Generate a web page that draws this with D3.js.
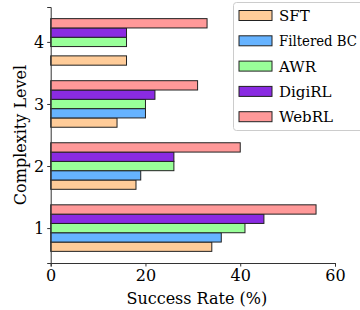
<!DOCTYPE html>
<html>
<head>
<meta charset="utf-8">
<script src="https://cdn.jsdelivr.net/npm/d3@7"></script>
<style>
  body { margin: 0; background: #fff; }
</style>
</head>
<body>
<svg width="360" height="310" font-family="DejaVu Serif"></svg>
<script>
// complexity levels and method names
const levels = [1, 2, 3, 4];
const methods = ['SFT', 'Filtered BC', 'AWR', 'DigiRL', 'WebRL'];
const colors = ['#ffcc99', '#66b3ff', '#99ff99', '#8a2be2', '#ff9999'];

// success rate (%) per level, one array per method
const sft = [34, 18, 14, 16];
const filteredBC = [36, 19, 20, 0];
const awr = [41, 26, 20, 16];
const digirl = [45, 26, 22, 16];
const webrl = [56, 40, 31, 33];
const values = [sft, filteredBC, awr, digirl, webrl];

const xTicks = [0, 20, 40, 60];

const FONT = 'DejaVu Serif';
const FS = 16;

const svg = d3.select('svg');
const barH = 0.15;

const x = d3.scaleLinear().domain([0, 60]).range([50.7, 335]);
const y = d3.scaleLinear().domain([0.4375, 4.5625]).range([263, 7]);

// bars
methods.forEach((m, j) => {
    const rows = levels.map((l, i) => ({ level: l, v: values[j][i] }))
        .filter(d => d.v > 0);
    svg.append('g').selectAll('rect')
        .data(rows)
        .enter()
        .append('rect')
        .attr('x', x(0))
        .attr('y', d => y(d.level + (j - 2) * barH + barH / 2))
        .attr('width', d => x(d.v) - x(0))
        .attr('height', d => y(0) - y(barH))
        .attr('fill', colors[j])
        .attr('stroke', '#222')
        .attr('stroke-width', 1);
});

// axes
const xAxis = svg.append('g')
    .attr('transform', `translate(0,${y(0.4375)})`)
    .call(d3.axisBottom(x).tickValues(xTicks).tickFormat(d3.format('d')).tickSize(3.5).tickPadding(3));
const yAxis = svg.append('g')
    .attr('transform', `translate(${x(0)},0)`)
    .call(d3.axisLeft(y).tickValues(levels).tickFormat(d3.format('d')).tickSize(3.5).tickPadding(3));

[xAxis, yAxis].forEach(a => {
    a.attr('font-family', FONT).attr('font-size', FS);
    a.select('.domain').attr('stroke', '#333').attr('stroke-width', 1);
    a.selectAll('.tick line').attr('stroke', '#333');
    a.selectAll('.tick text').attr('fill', '#000');
});

// axis titles
svg.append('text')
    .attr('x', (x(0) + x(60)) / 2 + 4)
    .attr('y', 304)
    .attr('text-anchor', 'middle')
    .attr('font-family', FONT)
    .attr('font-size', FS)
    .text('Success Rate (%)');

svg.append('text')
    .attr('transform', `translate(26,${(y(0.4375) + y(4.5625)) / 2}) rotate(-90)`)
    .attr('text-anchor', 'middle')
    .attr('font-family', FONT)
    .attr('font-size', FS)
    .text('Complexity Level');

// legend
const lg = svg.append('g');
lg.append('rect')
    .attr('x', 233.5).attr('y', 2.5)
    .attr('width', 140).attr('height', 128)
    .attr('rx', 3)
    .attr('fill', '#fff').attr('fill-opacity', 0.8)
    .attr('stroke', '#ccc');

const items = lg.selectAll('g.item')
    .data(methods)
    .enter()
    .append('g')
    .attr('transform', (d, i) => `translate(239,${15.5 + i * 25.3})`);
items.append('rect')
    .attr('x', 0).attr('y', -5)
    .attr('width', 33).attr('height', 10)
    .attr('fill', (d, i) => colors[i])
    .attr('stroke', '#222');
items.append('text')
    .attr('x', 40).attr('y', 5.5)
    .attr('font-family', FONT)
    .attr('font-size', 15)
    .text(d => d)
    .each(function () {
        // squeeze the long label so it stays inside the window
        if (this.getComputedTextLength() > 78) {
            d3.select(this).attr('textLength', 78).attr('lengthAdjust', 'spacingAndGlyphs');
        }
    });
</script>
</body>
</html>
